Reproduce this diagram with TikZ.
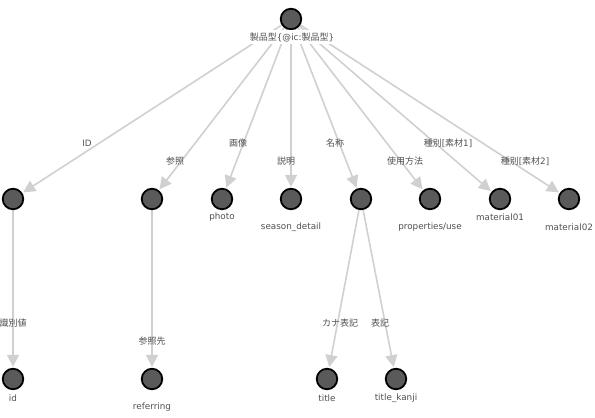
\documentclass[tikz,border=0pt]{standalone}
\usepackage{fontspec}
\setmainfont{DejaVu Sans}
\newfontfamily\jpfont{Noto Sans CJK JP}
\newcommand\jptext[1]{{\jpfont\fontsize{9}{10}\selectfont #1}}
\usetikzlibrary{arrows.meta,backgrounds}

\definecolor{dotgray}{HTML}{5A5A5A}
\definecolor{linkgray}{HTML}{D0D0D0}
\definecolor{txtgray}{HTML}{505050}

\tikzset{
  dot/.style={circle,draw=black,fill=dotgray,line width=1.8pt,minimum size=20.5pt,inner sep=0pt},
  txt/.style={font=\fontsize{8.8}{10}\selectfont,text=txtgray,inner sep=1pt},
  link/.style={draw=linkgray,line width=1.6pt,-{Triangle[length=12pt,width=12pt]},shorten >=1pt},
}

\begin{document}
\begin{tikzpicture}[x=1pt,y=-1pt]
  \useasboundingbox (0,0) rectangle (595,418);

  % the type and its properties
  \node[dot] (prod) at (291,19) {};
  \node[dot] (idn)  at (13,199) {};
  \node[dot] (ref)  at (152,199) {};
  \node[dot] (img)  at (222,199) {};
  \node[dot] (desc) at (291,199) {};
  \node[dot] (name) at (361,199) {};
  \node[dot] (use)  at (430,199) {};
  \node[dot] (mat1) at (500,199) {};
  \node[dot] (mat2) at (569,199) {};
  \node[dot] (idv)  at (13,379) {};
  \node[dot] (refto) at (152,379) {};
  \node[dot] (kana) at (327,379) {};
  \node[dot] (kanji) at (396,379) {};

  % node texts
  \node[txt,fill=white,inner sep=2pt] (prod-t) at (292,37) {\jptext{製品型}\{@ic:\jptext{製品型}\}};
  \node[txt] (img-t)   at (222,217) {photo};
  \node[txt] (desc-t)  at (291,227) {season\_detail};
  \node[txt] (use-t)   at (430,227) {properties/use};
  \node[txt] (mat1-t)  at (500,217) {material01};
  \node[txt] (mat2-t)  at (569,227) {material02};
  \node[txt] (idv-t)   at (13,398) {id};
  \node[txt] (refto-t) at (152,407) {referring};
  \node[txt] (kana-t)  at (327,398) {title};
  \node[txt] (kanji-t) at (396,398) {title\_kanji};

  % edge texts
  \node[txt] (l-idn)  at (87,143)  {ID};
  \node[txt] (l-ref)  at (175,161) {\jptext{参照}};
  \node[txt] (l-img)  at (238,143) {\jptext{画像}};
  \node[txt] (l-desc) at (286,161) {\jptext{説明}};
  \node[txt] (l-name) at (335,143) {\jptext{名称}};
  \node[txt] (l-use)  at (405,161) {\jptext{使用方法}};
  \node[txt] (l-mat1) at (448,143) {\jptext{種別}[\jptext{素材}1]};
  \node[txt] (l-mat2) at (525,161) {\jptext{種別}[\jptext{素材}2]};
  \node[txt] (l-idv)  at (13,323)  {\jptext{識別値}};
  \node[txt] (l-refto) at (152,341) {\jptext{参照先}};
  \node[txt] (l-kana) at (340,323) {\jptext{カナ表記}};
  \node[txt] (l-kanji) at (380,323) {\jptext{表記}};

  \begin{pgfonlayer}{background}
    \foreach \t in {idn,ref,img,desc,name,use,mat1,mat2}
      \draw[link] (prod.center) -- (\t);
    \draw[link] (idn.center) -- (idv);
    \draw[link] (ref.center) -- (refto);
    \draw[link] (name.center) -- (kana);
    \draw[link] (name.center) -- (kanji);
  \end{pgfonlayer}
\end{tikzpicture}
\end{document}
